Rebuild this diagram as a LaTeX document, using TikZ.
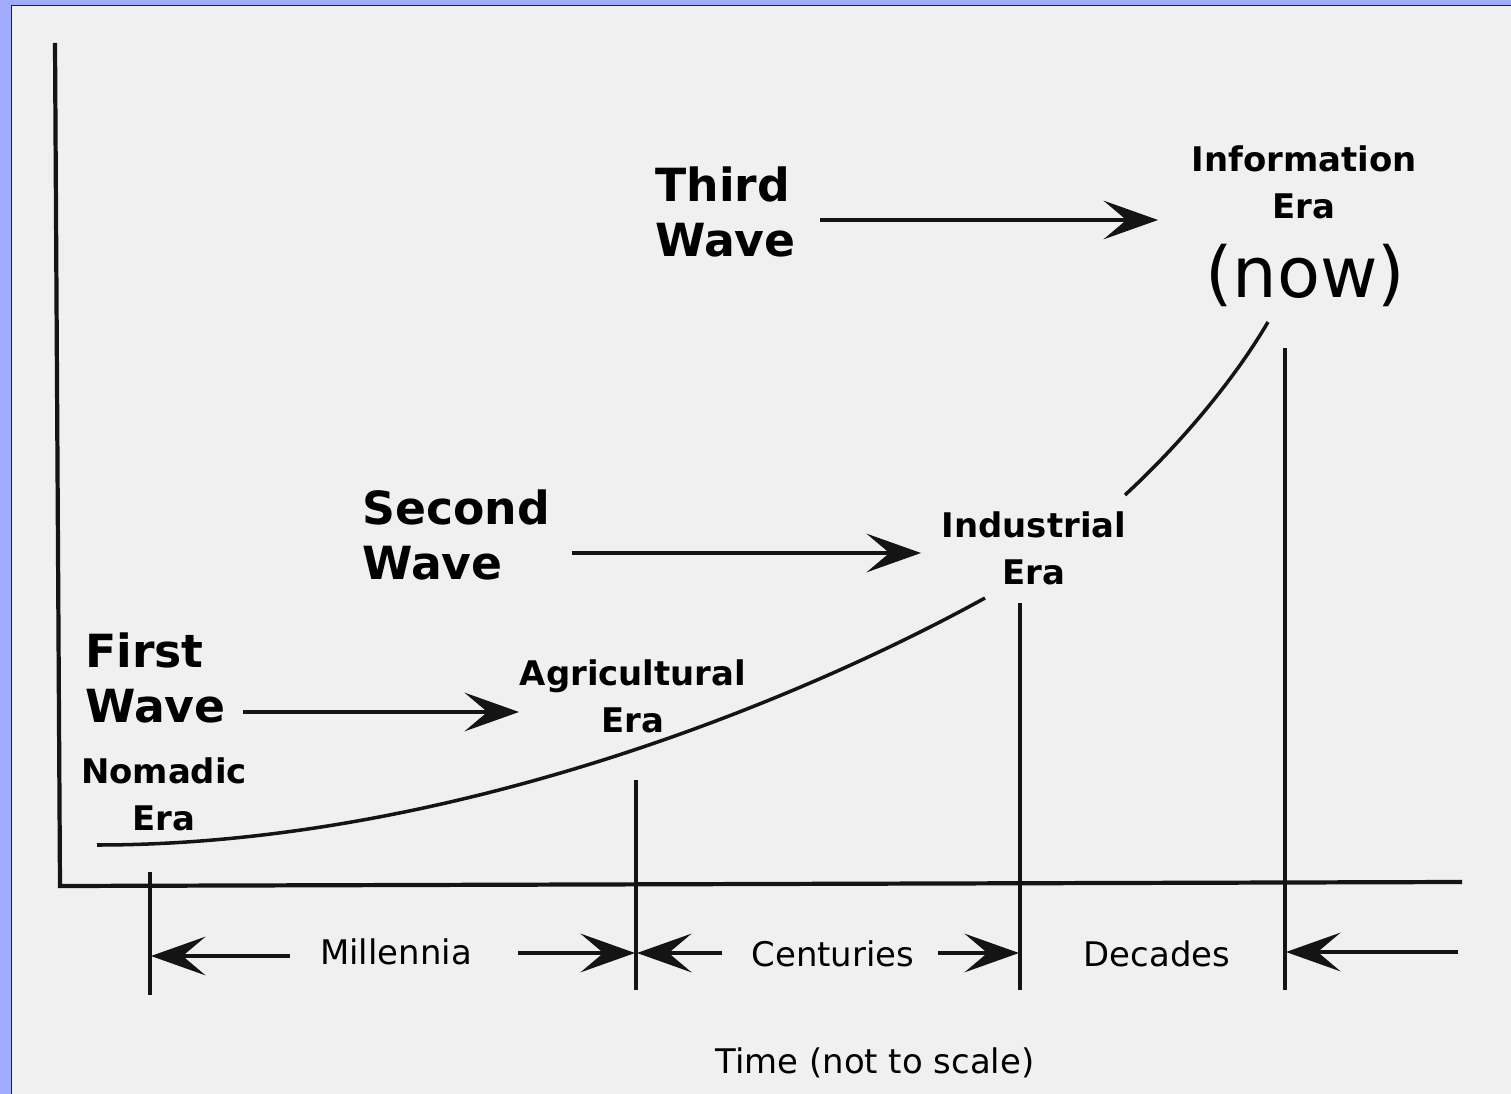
\documentclass[tikz,border=0pt]{standalone}
\usepackage{fontspec}
\setmainfont{DejaVu Sans}
\usetikzlibrary{arrows.meta}
\definecolor{frameblue}{RGB}{162,172,255}
\definecolor{panelgray}{RGB}{240,240,240}
\definecolor{frameline}{RGB}{30,30,60}
\definecolor{ink}{RGB}{20,20,20}
\begin{document}
\begin{tikzpicture}[x=0.02cm,y=-0.02cm,
  axis/.style={line width=2.4pt,ink},
  growth/.style={line width=2pt,ink},
  tick/.style={line width=2pt,ink},
  tip/.style={line width=2pt,ink,-{Stealth[length=31pt,width=22pt,inset=13pt]}},
  wave/.style={font=\fontsize{26}{31}\selectfont\bfseries,align=left,anchor=west,inner sep=0},
  era/.style={font=\fontsize{19.3}{26.6}\selectfont\bfseries,align=center,inner sep=0},
  span/.style={font=\fontsize{19.3}{23}\selectfont,inner sep=0}]
\useasboundingbox (0,0) rectangle (1511,1094);
% frame
\fill[frameblue] (0,0) rectangle (1511,1094);
\fill[panelgray] (12,6) rectangle (1511,1094);
\draw[frameline,line width=0.6pt] (11.5,1094) -- (11.5,5.5) -- (1511,5.5);
% axes
\draw[axis] (55,43) -- (60,886) -- (1462,882);
% growth curve
\draw[growth] (97,845) .. controls (450,845) and (800,700) .. (985,598);
\draw[growth] (1125,495) .. controls (1190,435) and (1240,370) .. (1268,322);
% era markers
\foreach \x/\ya/\yb in {150/872/995, 636/780/990, 1020/603/990, 1285/348/990}
  \draw[tick] (\x,\ya) -- (\x,\yb);
% labels
\node[wave] (third) at (655,212) {Third\\Wave};
\node[wave] (second) at (362,535) {Second\\Wave};
\node[wave] (first) at (85,678) {First\\Wave};
\node[era] (infoera) at (1304,182) {Information\\Era};
\node[inner sep=0,font=\fontsize{40}{44}\selectfont] (now) at (1305,275) {(now)};
\node[era] (industrial) at (1034,548) {Industrial\\Era};
\node[era] (agri) at (633,696) {Agricultural\\Era};
\node[era] (nomadic) at (164,794) {Nomadic\\Era};
\node[span] (millennia) at (396,952) {Millennia};
\node[span] (centuries) at (833,954) {Centuries};
\node[span] (decades) at (1157,954) {Decades};
\node[span] (timelabel) at (875,1063) {Time (not to scale)};
% wave arrows
\coordinate (w1a) at (243,712); \coordinate (w1b) at (519,712);
\coordinate (w2a) at (572,553); \coordinate (w2b) at (921,553);
\coordinate (w3a) at (820,220); \coordinate (w3b) at (1158,220);
\draw[tip] (w1a) -- (w1b);
\draw[tip] (w2a) -- (w2b);
\draw[tip] (w3a) -- (w3b);
% spans
\foreach \xa/\xb/\y in {290/151/956, 518/635/953, 722/637/953, 938/1019/953, 1458/1286/952}
  \draw[tip] (\xa,\y) -- (\xb,\y);
\end{tikzpicture}
\end{document}
